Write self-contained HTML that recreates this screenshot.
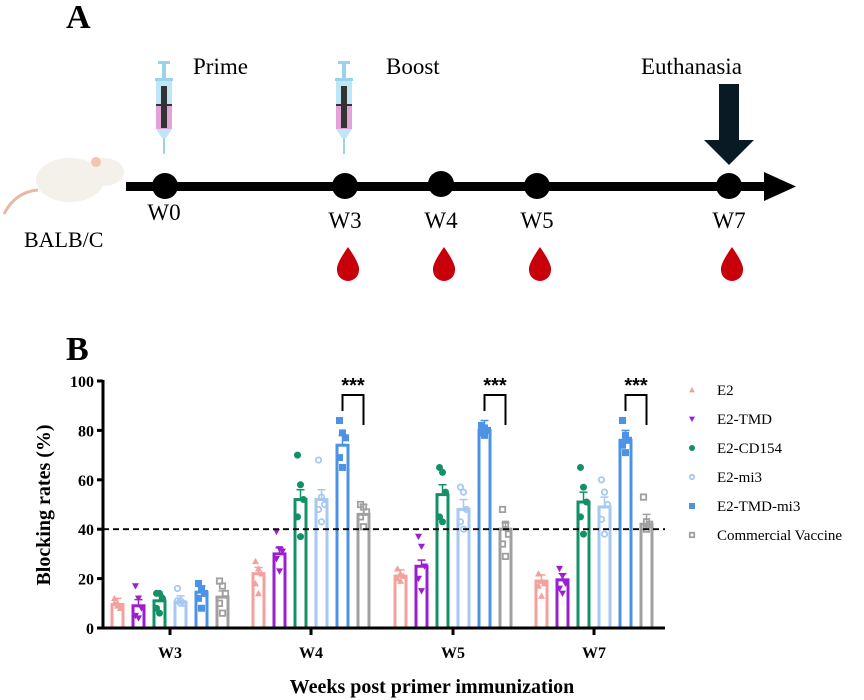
<!DOCTYPE html>
<html><head><meta charset="utf-8"><style>
body{margin:0;background:#fff}
svg{display:block}
text{font-family:"Liberation Serif","DejaVu Serif",serif}
</style></head><body>
<svg id="s" width="864" height="700" viewBox="0 0 864 700" xmlns="http://www.w3.org/2000/svg" font-family="Liberation Serif, serif">
<text x="66" y="28" font-size="34" font-weight="bold">A</text>
<text x="193" y="74" font-size="23">Prime</text>
<text x="386" y="74" font-size="23">Boost</text>
<text x="641" y="74" font-size="23">Euthanasia</text>
<g id="syr">
<rect x="158" y="61" width="12" height="3" fill="#9ad4ec"/>
<rect x="162" y="64" width="4" height="14" fill="#9ad4ec"/>
<rect x="155" y="78" width="18" height="3" fill="#9ad4ec"/>
<rect x="156" y="81" width="16" height="24" fill="#bfe6f6"/>
<rect x="156" y="105" width="16" height="24" fill="#e3a3d8"/>
<rect x="156" y="104" width="16" height="2" fill="#333"/>
<rect x="161" y="86" width="6" height="42" fill="#333"/>
<path d="M156 129 L172 129 L166 138 L162 138Z" fill="#bfe6f6"/>
<rect x="163" y="138" width="2" height="16" fill="#9ad4ec"/>
</g>
<use href="#syr" x="180"/>
<ellipse cx="70" cy="180" rx="34" ry="22" fill="#f4f0ea"/>
<ellipse cx="104" cy="172" rx="20" ry="14" fill="#f4f0ea"/>
<circle cx="96" cy="162" r="5" fill="#f1c4b4"/>
<path d="M38 190 Q15 192 4 214" stroke="#e8b8a6" stroke-width="3" fill="none"/>
<text x="24" y="247" font-size="22">BALB/C</text>
<rect x="126" y="182" width="640" height="9" fill="#000"/>
<path d="M764 172 L796 186.5 L764 201Z" fill="#000"/>
<circle cx="165" cy="186" r="13"/><circle cx="345" cy="186" r="13"/><circle cx="441" cy="184" r="13"/><circle cx="537" cy="186" r="13"/><circle cx="729" cy="186" r="13"/>
<path d="M719 84 L739 84 L739 140 L754 140 L729 165 L704 140 L719 140Z" fill="#0a1a24"/>
<g font-size="23" text-anchor="middle">
<text x="164" y="220">W0</text><text x="345" y="228">W3</text><text x="441" y="228">W4</text><text x="537" y="228">W5</text><text x="729" y="228">W7</text>
</g>
<g id="drop"><path d="M348 247 Q336 264 337 270 A11 11 0 0 0 359 270 Q360 264 348 247Z" fill="#c8000a"/></g>
<use href="#drop" x="96"/><use href="#drop" x="192"/><use href="#drop" x="384"/>
<text x="66" y="360" font-size="34" font-weight="bold">B</text>
<g id="chart"></g>
</svg>
<script>
const g=document.getElementById('chart');let h='';
const Y=v=>628-v*2.47;
const cols=['#f4a09c','#9b1fd0','#139064','#a6c8f2','#4c93e6','#a0a0a0'];
const centers=[170,311,453,594];
const off=[-52.5,-31.5,-10.5,10.5,31.5,52.5];
const vals=[[9.5,9,11,10.5,14.5,12.5],[22,30,52,52,74,46],[21,25,54,48,80,40],[19,19.5,51,49,76,42]];
const pts=[[[12,10,8,10,9],[17,12,8,5,4],[14,14,12,8,6],[16,11,10,11,10],[18,16,14,12,8],[19,17,14,10,6]],
[[27,24,22,18,14],[39,32,31,28,23],[70,58,52,45,37],[68,53,50,48,43],[84,79,77,69,65],[50,49,47,45,41]],
[[24,22,21,20,19],[37,33,25,20,15],[65,63,55,45,43],[57,55,48,43,40],[82,81,80,79,78],[48,42,38,34,29]],
[[22,19,18,17,13],[24,21,18,16,14],[65,57,51,45,38],[60,55,50,44,38],[84,78,76,74,71],[53,43,42,41,40]]];
function mk(t,x,y,c,s){s=s||3.5;
 if(t==0)return `<path d="M${x} ${y-s} L${x+s} ${y+s*0.8} L${x-s} ${y+s*0.8}Z" fill="${c}"/>`;
 if(t==1)return `<path d="M${x-s} ${y-s*0.8} L${x+s} ${y-s*0.8} L${x} ${y+s}Z" fill="${c}"/>`;
 if(t==2)return `<circle cx="${x}" cy="${y}" r="${s}" fill="${c}"/>`;
 if(t==3)return `<circle cx="${x}" cy="${y}" r="${s-0.8}" fill="none" stroke="${c}" stroke-width="1.8"/>`;
 if(t==4)return `<rect x="${x-s}" y="${y-s}" width="${2*s}" height="${2*s}" fill="${c}"/>`;
 return `<rect x="${x-s+0.8}" y="${y-s+0.8}" width="${2*s-1.6}" height="${2*s-1.6}" fill="none" stroke="${c}" stroke-width="1.8"/>`;}
for(let i=0;i<4;i++)for(let j=0;j<6;j++){
 const cx=centers[i]+off[j],v=vals[i][j],c=cols[j];
 const y=Y(v);
 h+=`<rect x="${cx-5.5}" y="${y}" width="11" height="${628-y}" fill="#fff" stroke="${c}" stroke-width="3"/>`;
 const e=Y(v+ (v>40?4:2.5));
 h+=`<line x1="${cx}" y1="${y}" x2="${cx}" y2="${e}" stroke="${c}" stroke-width="1.5"/><line x1="${cx-4}" y1="${e}" x2="${cx+4}" y2="${e}" stroke="${c}" stroke-width="1.5"/>`;
 pts[i][j].forEach((p,k)=>{h+=mk(j,cx+((k%3)-1)*3,Y(p),c)});
}
h+=`<line x1="103" y1="${Y(40)}" x2="665" y2="${Y(40)}" stroke="#000" stroke-width="1.8" stroke-dasharray="6,4"/>`;
h+=`<path d="M103 380 L103 628 L665 628" fill="none" stroke="#000" stroke-width="3"/>`;
[0,20,40,60,80,100].forEach(v=>{h+=`<line x1="97" y1="${Y(v)}" x2="103" y2="${Y(v)}" stroke="#000" stroke-width="3"/><text x="94" y="${Y(v)+6}" font-size="16" font-weight="bold" text-anchor="end">${v}</text>`});
['W3','W4','W5','W7'].forEach((w,i)=>{h+=`<line x1="${centers[i]}" y1="628" x2="${centers[i]}" y2="635" stroke="#000" stroke-width="3"/><text x="${centers[i]}" y="658" font-size="16" font-weight="bold" text-anchor="middle">${w}</text>`});
h+=`<text x="432" y="693" font-size="20" font-weight="bold" text-anchor="middle">Weeks post primer immunization</text>`;
h+=`<text transform="translate(50,505) rotate(-90)" font-size="20" font-weight="bold" text-anchor="middle">Blocking rates (%)</text>`;
centers.slice(1).forEach(c=>{const a=c+31.5,b=c+52.5;h+=`<path d="M${a} 411 L${a} 395 L${b} 395 L${b} 425" fill="none" stroke="#000" stroke-width="2"/><text x="${(a+b)/2}" y="392" font-size="20" font-weight="bold" text-anchor="middle" style="font-family:'Liberation Sans',sans-serif">***</text>`});
const names=['E2','E2-TMD','E2-CD154','E2-mi3','E2-TMD-mi3','Commercial Vaccine'];
names.forEach((n,j)=>{const y=390+j*29;h+=mk(j,692,y,cols[j],3);h+=`<text x="717" y="${y+5}" font-size="15">${n}</text>`});
g.innerHTML=h;
</script>
</body></html>
